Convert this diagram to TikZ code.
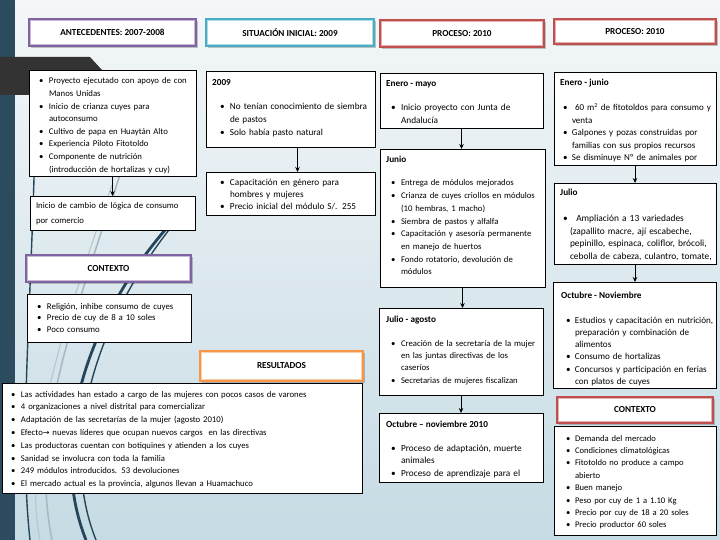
\documentclass[tikz,border=0pt]{standalone}
\usepackage{fontspec}
\setmainfont{Carlito}
\newfontfamily\dejavu{DejaVu Sans}
\usetikzlibrary{arrows.meta,shadows}
\definecolor{strip}{HTML}{2D4B5E}
\definecolor{swoosh}{HTML}{25465A}
\definecolor{lightln}{HTML}{A7BAC4}
\definecolor{tabgray}{HTML}{333333}
\definecolor{hpurple}{HTML}{8064A2}
\definecolor{hteal}{HTML}{4BACC6}
\definecolor{hred}{HTML}{C0504D}
\definecolor{horange}{HTML}{F79646}
\definecolor{bgtop}{HTML}{F4F7F9}
\definecolor{bgbot}{HTML}{C6DBE4}
\newlength{\bulind}
\setlength{\bulind}{10pt}
\newcommand{\itm}[1]{\noindent\hangindent=\bulind\hangafter=1\makebox[\bulind][l]{\textbullet}#1\par}
\newcommand{\fs}[2]{\fontsize{#1}{#2}\selectfont}
\begin{document}
\begin{tikzpicture}[x=1pt,y=-1pt,
  hdr/.style={draw=#1, line width=1.5pt, fill=white, inner sep=0pt, outer sep=0pt, anchor=north west,
    font=\fontsize{9.2}{11}\selectfont\bfseries,
    drop shadow={shadow xshift=1.5pt, shadow yshift=-1.8pt, fill=black, opacity=0.22},
    path picture={\draw[#1!45, line width=4.6pt] (path picture bounding box.south west) rectangle (path picture bounding box.north east);}},
  cbox/.style={draw=black, line width=0.7pt, fill=white, inner sep=0pt, outer sep=0pt, anchor=north west,
    drop shadow={shadow xshift=1.3pt, shadow yshift=-1.3pt, fill=black, opacity=0.2}},
  txt/.style={anchor=base west, inner sep=0pt, outer sep=0pt, text width=#1, align=left},
  ttl/.style={anchor=base west, inner sep=0pt, font=\fontsize{9.2}{12}\selectfont\bfseries},
  arr/.style={draw=black, line width=0.9pt, -{Stealth[length=5pt,width=4.5pt]}}
]
\useasboundingbox (0,0) rectangle (720,540);
% background
\shade[top color=bgtop, bottom color=bgbot] (0,0) rectangle (720,540);
\fill[strip] (0,0) rectangle (15,540);
% decorative swooshes
\draw[lightln, line width=1.6pt] (128,150) .. controls (70,330) and (30,430) .. (52,540);
\draw[lightln!80!white, line width=1.2pt] (112,185) .. controls (62,330) and (22,450) .. (40,540);
\draw[swoosh, line width=1.4pt] (36,90) .. controls (33,300) and (18,430) .. (30,540);
\draw[swoosh, line width=2.8pt] (165,230) .. controls (80,330) and (50,450) .. (86,540);
\draw[swoosh, line width=1.4pt] (172,226) .. controls (90,330) and (60,450) .. (96,540);
% dark tab
\fill[tabgray] (0,57) -- (90,57) -- (102,70) -- (102,95) -- (0,95) -- cycle;

% headers
\node[hdr=hpurple, minimum width=167pt, minimum height=27pt] (h1) at (29,19) {ANTECEDENTES: 2007-2008};
\node[hdr=hteal, minimum width=168pt, minimum height=27pt] (h2) at (206,19) {SITUACIÓN INICIAL: 2009};
\node[hdr=hred, minimum width=164pt, minimum height=27pt] (h3) at (380,20) {PROCESO: 2010};
\node[hdr=hred, minimum width=162pt, minimum height=25pt] (h4) at (554,19) {PROCESO: 2010};
\node[hdr=hpurple, minimum width=165pt, minimum height=27pt] (h5) at (26,255) {CONTEXTO};
\node[hdr=horange, minimum width=163pt, minimum height=30pt] (h6) at (200,351) {RESULTADOS};
\node[hdr=hred, minimum width=156pt, minimum height=26pt] (h7) at (557,397) {CONTEXTO};

% column 1
\node[cbox, minimum width=167pt, minimum height=106pt] (b1) at (29,70) {};
\node[txt=160pt, font=\fs{8.75}{12.6}] (b1t) at (39,84) {\itm{Proyecto ejecutado con apoyo de con\newline Manos Unidas}
\itm{Inicio de crianza cuyes para\newline autoconsumo}
\itm{Cultivo de papa en Huaytán Alto}
\itm{Experiencia Piloto Fitotoldo}
\itm{Componente de nutrición\newline (introducción de hortalizas y cuy)}};
\node[cbox, minimum width=165pt, minimum height=34pt] (b2) at (30,196) {};
\node[txt=160pt, font=\fs{8.75}{15}] (b2t) at (36,209) {Inicio de cambio de lógica de consumo\newline por comercio};
\node[cbox, minimum width=164pt, minimum height=48pt] (b3) at (27,294) {};
\node[txt=160pt, font=\fs{8.8}{11.8}] (b3t) at (37,309) {\itm{Religión, inhibe consumo de cuyes}
\itm{Precio de cuy de 8 a 10 soles}
\itm{Poco consumo}};
\node[cbox, minimum width=360pt, minimum height=110pt] (b4) at (2,383) {};
\node[txt=350pt, font=\fs{8.7}{12.8}] (b4t) at (11,397) {\itm{Las actividades han estado a cargo de las mujeres con pocos casos de varones}
\itm{4 organizaciones a nivel distrital para comercializar}
\itm{Adaptación de las secretarías de la mujer (agosto 2010)}
\itm{Efecto{\dejavu\fontsize{8}{9}\selectfont →} nuevas líderes que ocupan nuevos cargos\ \ en las directivas}
\itm{Las productoras cuentan con botiquines y atienden a los cuyes}
\itm{Sanidad se involucra con toda la familia}
\itm{249 módulos introducidos. 53 devoluciones}
\itm{El mercado actual es la provincia, algunos llevan a Huamachuco}};

% column 2
\node[cbox, minimum width=169pt, minimum height=76pt] (c1) at (206,71) {};
\node[ttl] (c1h) at (212,86) {2009};
\node[txt=165pt, font=\fs{9.2}{12.6}] (c1t) at (220,110) {\itm{No tenían conocimiento de siembra\newline de pastos}
\itm{Solo había pasto natural}};
\node[cbox, minimum width=169pt, minimum height=43pt] (c2) at (206,172) {};
\node[txt=165pt, font=\fs{9.2}{11.8}] (c2t) at (220,186) {\itm{Capacitación en género para\newline hombres y mujeres}
\itm{Precio inicial del módulo S/. 255}};

% column 3
\node[cbox, minimum width=163pt, minimum height=55pt] (d1) at (380,73) {};
\node[ttl] (d1h) at (386,87) {Enero - mayo};
\node[txt=160pt, font=\fs{9.3}{12.6}] (d1t) at (391,111) {\itm{Inicio proyecto con Junta de\newline Andalucía}};
\node[cbox, minimum width=165pt, minimum height=138pt] (d2) at (380,149) {};
\node[ttl] (d2h) at (386,163) {Junio};
\node[txt=160pt, font=\fs{8.7}{12.7}] (d2t) at (391,186) {\itm{Entrega de módulos mejorados}
\itm{Crianza de cuyes criollos en módulos\newline (10 hembras, 1 macho)}
\itm{Siembra de pastos y alfalfa}
\itm{Capacitación y asesoría permanente\newline en manejo de huertos}
\itm{Fondo rotatorio, devolución de\newline módulos}};
\node[cbox, minimum width=164pt, minimum height=87pt] (d3) at (379,308) {};
\node[ttl] (d3h) at (386,322) {Julio - agosto};
\node[txt=160pt, font=\fs{8.7}{12.4}] (d3t) at (391,346) {\itm{Creación de la secretaría de la mujer\newline en las juntas directivas de los\newline caseríos}
\itm{Secretarias de mujeres fiscalizan}};
\node[cbox, minimum width=164pt, minimum height=69pt] (d4) at (379,413) {};
\node[ttl] (d4h) at (386,427) {Octubre – noviembre 2010};
\node[txt=160pt, font=\fs{9.3}{12.5}] (d4t) at (391,451) {\itm{Proceso de adaptación, muerte\newline animales}
\itm{Proceso de aprendizaje para el}};

% column 4
\setlength{\bulind}{9pt}
\node[cbox, minimum width=162pt, minimum height=93pt] (e1) at (554,72) {};
\node[ttl] (e1h) at (560,86) {Enero - junio};
\node[txt=160pt, font=\fs{9.0}{12.4}] (e1t) at (563,111) {\itm{\ 60 m\textsuperscript{2} de fitotoldos para consumo y\newline venta}
\itm{Galpones y pozas construidas por\newline familias con sus propios recursos}
\itm{Se disminuye Nº de animales por}};
\node[cbox, minimum width=162pt, minimum height=81pt] (e2) at (554,183) {};
\node[ttl] (e2h) at (560,196) {Julio};
\setlength{\bulind}{7pt}
\node[txt=160pt, font=\fs{9.4}{12.4}] (e2t) at (563,222) {\itm{\ \ Ampliación a 13 variedades\newline (zapallito macre, ají escabeche,\newline pepinillo, espinaca, coliflor, brócoli,\newline cebolla de cabeza, culantro, tomate,}};
\setlength{\bulind}{9pt}
\node[cbox, minimum width=163pt, minimum height=106pt] (e3) at (553,282) {};
\node[ttl] (e3h) at (561,298) {Octubre - Noviembre};
\node[txt=160pt, font=\fs{9.1}{12.3}] (e3t) at (566,323) {\itm{Estudios y capacitación en nutrición,\newline preparación y combinación de\newline alimentos}
\itm{Consumo de hortalizas}
\itm{Concursos y participación en ferias\newline con platos de cuyes}};
\node[cbox, minimum width=162pt, minimum height=109pt] (e4) at (554,426) {};
\node[txt=155pt, font=\fs{8.6}{12.4}] (e4t) at (566,441) {\itm{Demanda del mercado}
\itm{Condiciones climatológicas}
\itm{Fitotoldo no produce a campo\newline abierto}
\itm{Buen manejo}
\itm{Peso por cuy de 1 a 1.10 Kg}
\itm{Precio por cuy de 18 a 20 soles}
\itm{Precio productor 60 soles}};

% connectors
\draw[arr] (b1.south) -- (b1.south |- b2.north);
\draw[arr] ([xshift=7pt]c1.south) -- ([xshift=7pt]c1.south |- c2.north);
\draw[arr] (d1.south) -- (d1.south |- d2.north);
\draw[arr] (d2.south) -- (d2.south |- d3.north);
\draw[arr] (d3.south) -- (d3.south |- d4.north);
\draw[arr] (e1.south) -- (e1.south |- e2.north);
\draw[arr] (e2.south) -- (e2.south |- e3.north);
\end{tikzpicture}
\end{document}
